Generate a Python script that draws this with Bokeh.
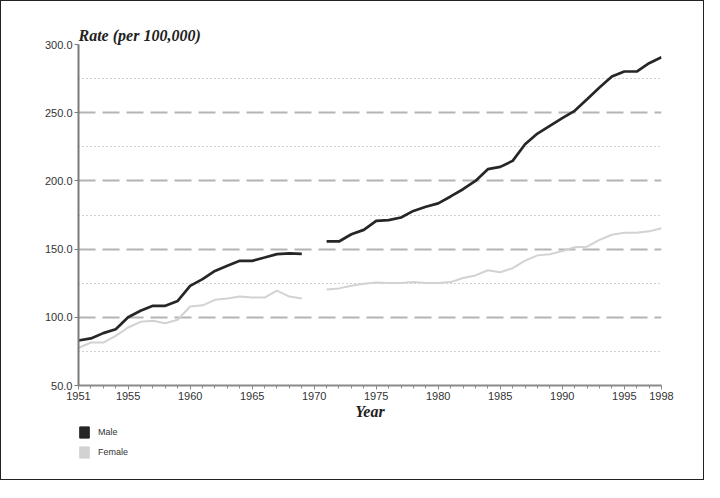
import math
from bokeh.plotting import figure
from bokeh.layouts import column
from bokeh.models import (FixedTicker, Legend, LegendItem, NumeralTickFormatter,
                          Range1d, ColumnDataSource)
from bokeh.embed import file_html
from bokeh.resources import INLINE

nan = float("nan")

years = list(range(1951, 1999))

# 1970 is missing in the source (gap in the lines)
male = [83.0, 84.5, 88.4, 91.3, 100.0, 104.8, 108.4, 108.4, 112.0, 123.0,
        128.0, 134.0, 137.8, 141.4, 141.4, 143.8, 146.3, 146.8, 146.5,
        nan,
        155.6, 155.6, 160.9, 164.1, 170.7, 171.2, 173.2, 178.0, 181.0, 183.5,
        188.6, 193.9, 200.0, 208.6, 210.3, 214.7, 226.9, 234.7, 240.4, 246.0,
        251.4, 259.9, 268.5, 276.5, 280.2, 280.2, 286.3, 290.7]

female = [77.5, 81.5, 81.5, 86.4, 92.5, 96.7, 97.4, 95.7, 98.2, 107.9,
          108.8, 112.8, 113.8, 115.2, 114.5, 114.5, 119.5, 115.2, 113.8,
          nan,
          120.4, 121.2, 123.2, 124.6, 125.6, 125.2, 125.2, 125.8, 125.2, 125.2,
          125.8, 128.8, 130.7, 134.5, 133.0, 136.0, 141.5, 145.4, 146.2, 148.5,
          151.3, 151.8, 156.8, 160.5, 162.0, 162.0, 163.0, 165.3]

x_ticks = [1951, 1955, 1960, 1965, 1970, 1975, 1980, 1985, 1990, 1995, 1998]
y_ticks = [50, 100, 150, 200, 250, 300]
y_grid_major = [100, 150, 200, 250, 300]
y_grid_minor = [75, 125, 175, 225, 275]

series_names = ["Male", "Female"]
series_colors = ["#262626", "#d2d2d2"]

p = figure(width=702, height=421, output_backend="svg", toolbar_location=None,
           x_range=Range1d(1951, 1998), y_range=Range1d(50, 300),
           min_border_left=77, min_border_right=42, min_border_top=43,
           min_border_bottom=37)
p.outline_line_color = None
p.background_fill_color = "white"
p.border_fill_color = "white"

# title (y-axis caption)
p.title.text = "Rate (per 100,000)"
p.title.align = "left"
p.title.text_font = "Liberation Serif"
p.title.text_font_style = "bold italic"
p.title.text_font_size = "16px"
p.title.text_color = "#222"
p.title.standoff = 2

# grid
p.xgrid.visible = False
p.ygrid.ticker = FixedTicker(ticks=y_grid_major, minor_ticks=y_grid_minor)
p.ygrid.grid_line_color = "#b4b4b4"
p.ygrid.grid_line_width = 2
p.ygrid.grid_line_dash = "17 7"
p.ygrid.minor_grid_line_color = "#a0a0a0"
p.ygrid.minor_grid_line_width = 1
p.ygrid.minor_grid_line_dash = "1 3"

# lines
src = ColumnDataSource(dict(year=years, male=male, female=female))
p.line("year", "female", source=src, line_color=series_colors[1], line_width=2)
p.line("year", "male", source=src, line_color=series_colors[0], line_width=2.7)

# axes
xa = p.xaxis[0]
xa.ticker = FixedTicker(ticks=x_ticks, minor_ticks=years)
xa.axis_line_color = "#8a8a8a"
xa.axis_line_width = 2
xa.major_tick_line_color = "#8a8a8a"
xa.minor_tick_line_color = "#8a8a8a"
xa.major_tick_in = 0
xa.major_tick_out = 4
xa.minor_tick_in = 0
xa.minor_tick_out = 3
xa.major_label_text_font = "Liberation Sans"
xa.major_label_text_font_size = "11px"
xa.major_label_text_color = "#333"
xa.major_label_standoff = 2
xa.axis_label = "Year"
xa.axis_label_text_font = "Liberation Serif"
xa.axis_label_text_font_style = "bold italic"
xa.axis_label_text_font_size = "16px"
xa.axis_label_text_color = "#222"
xa.axis_label_standoff = 0

ya = p.yaxis[0]
ya.ticker = FixedTicker(ticks=y_ticks)
ya.formatter = NumeralTickFormatter(format="0.0")
ya.axis_line_color = "#7a7a7a"
ya.axis_line_width = 2
ya.major_tick_line_color = "#7a7a7a"
ya.major_tick_in = 0
ya.major_tick_out = 4
ya.minor_tick_line_color = None
ya.major_label_text_font = "Liberation Sans"
ya.major_label_text_font_size = "11px"
ya.major_label_text_color = "#333"
ya.major_label_standoff = 2

# legend strip below the chart; swatch renderers sit outside the visible range
lp = figure(width=702, height=57, output_backend="svg", toolbar_location=None,
            x_range=Range1d(0, 1), y_range=Range1d(0, 1),
            min_border_left=77, min_border_right=0, min_border_top=0,
            min_border_bottom=20)
lp.axis.visible = False
lp.grid.visible = False
lp.outline_line_color = None
lp.background_fill_color = "white"
lp.border_fill_color = "white"
rm = lp.quad(left=[5], right=[6], top=[6], bottom=[5], fill_color=series_colors[0],
             line_color=series_colors[0])
rf = lp.quad(left=[5], right=[6], top=[6], bottom=[5], fill_color=series_colors[1],
             line_color=series_colors[1])
legend = Legend(items=[LegendItem(label=series_names[0], renderers=[rm]),
                       LegendItem(label=series_names[1], renderers=[rf])],
                location="bottom_left", orientation="vertical",
                glyph_width=12, glyph_height=14, label_height=14,
                label_standoff=8, spacing=6, padding=0, margin=0,
                label_text_font="Liberation Sans", label_text_font_size="9px",
                label_text_color="#333",
                border_line_color=None, background_fill_alpha=0)
lp.add_layout(legend, "center")

layout = column(p, lp, spacing=0)
layout.styles = {"border": "1px solid #222", "background-color": "white"}

open("out.html", "w").write(file_html(layout, INLINE))
